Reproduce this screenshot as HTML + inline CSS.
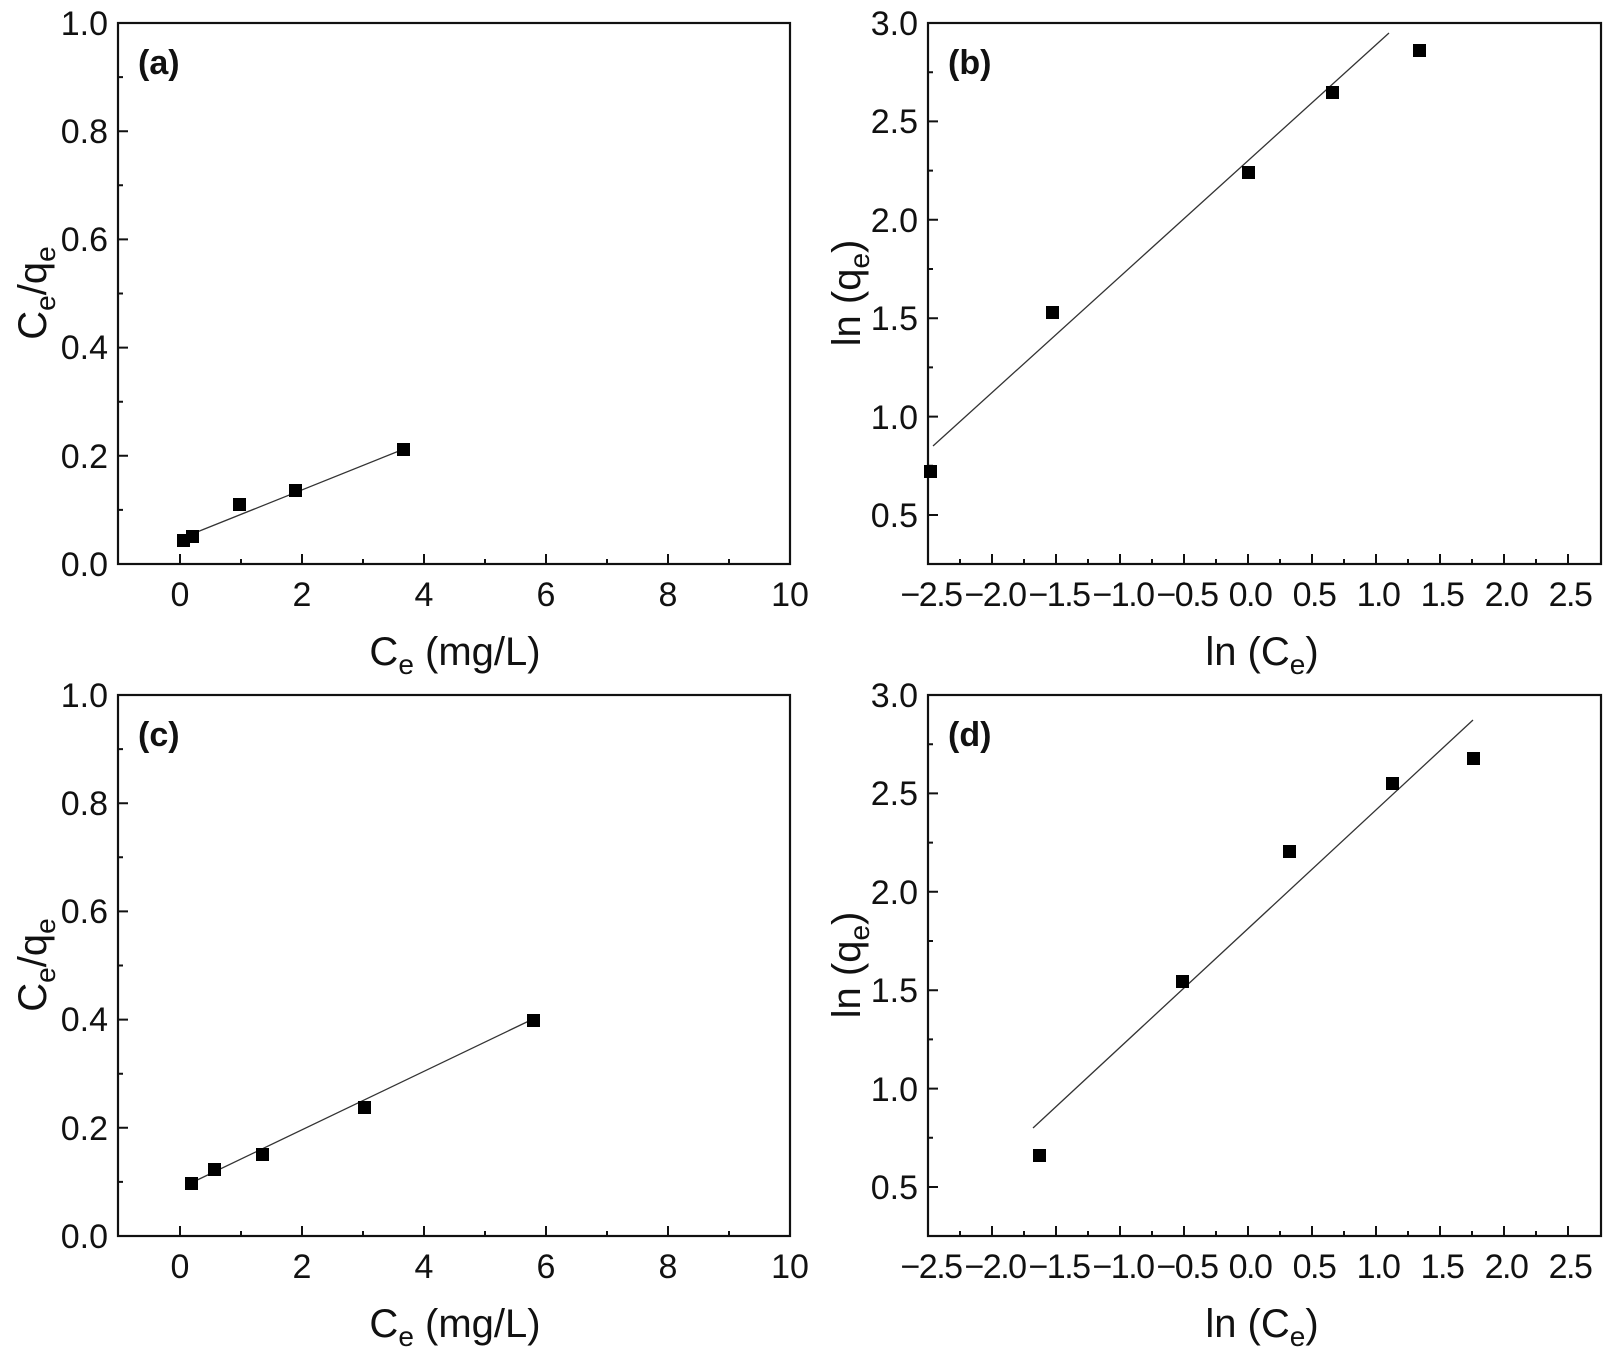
<!DOCTYPE html>
<html><head><meta charset="utf-8"><style>
html,body{margin:0;padding:0;background:#fff;}
svg{display:block;font-family:"Liberation Sans",Arial,sans-serif;}
.t{font-size:34px;fill:#111;}
.ti{font-size:40px;fill:#111;}
.p{font-size:34px;font-weight:bold;fill:#111;}
</style></head><body>
<svg width="1606" height="1349" viewBox="0 0 1606 1349" xmlns="http://www.w3.org/2000/svg">
<rect width="1606" height="1349" fill="#fff"/>
<g stroke="#111" stroke-width="2.2" fill="none">
<rect x="118" y="23" width="672" height="541"/>
<rect x="928" y="23" width="673" height="541"/>
<rect x="118" y="695" width="672" height="541"/>
<rect x="928" y="695" width="673" height="541"/>
</g>
<g stroke="#111" stroke-width="2">
<path d="M180 564v-10M302 564v-10M424 564v-10M546 564v-10M668 564v-10M241 564v-5M363 564v-5M485 564v-5M607 564v-5M729 564v-5"/>
<path d="M118 455.8h10M118 347.6h10M118 239.4h10M118 131.2h10M118 509.9h5M118 401.7h5M118 293.5h5M118 185.3h5M118 77.1h5"/>
<path d="M180 1236v-10M302 1236v-10M424 1236v-10M546 1236v-10M668 1236v-10M241 1236v-5M363 1236v-5M485 1236v-5M607 1236v-5M729 1236v-5"/>
<path d="M118 1127.8h10M118 1019.6h10M118 911.4h10M118 803.2h10M118 1181.9h5M118 1073.7h5M118 965.5h5M118 857.3h5M118 749.1h5"/>
<path d="M992 564v-10M1056 564v-10M1120 564v-10M1184 564v-10M1248 564v-10M1312 564v-10M1376 564v-10M1440 564v-10M1504 564v-10M1568 564v-10M960 564v-5M1024 564v-5M1088 564v-5M1152 564v-5M1216 564v-5M1280 564v-5M1344 564v-5M1408 564v-5M1472 564v-5M1536 564v-5"/>
<path d="M928 121.4h10M928 219.8h10M928 318.2h10M928 416.6h10M928 515h10M928 72.2h5M928 170.6h5M928 269h5M928 367.4h5M928 465.8h5"/>
<path d="M992 1236v-10M1056 1236v-10M1120 1236v-10M1184 1236v-10M1248 1236v-10M1312 1236v-10M1376 1236v-10M1440 1236v-10M1504 1236v-10M1568 1236v-10M960 1236v-5M1024 1236v-5M1088 1236v-5M1152 1236v-5M1216 1236v-5M1280 1236v-5M1344 1236v-5M1408 1236v-5M1472 1236v-5M1536 1236v-5"/>
<path d="M928 793.4h10M928 891.8h10M928 990.2h10M928 1088.6h10M928 1187h10M928 744.2h5M928 842.6h5M928 941h5M928 1039.4h5M928 1137.8h5"/>
</g>
<g stroke="#333" stroke-width="1.3">
<line x1="197" y1="532" x2="404" y2="449"/>
<line x1="191" y1="1183" x2="531" y2="1020"/>
<line x1="933" y1="446" x2="1389" y2="33"/>
<line x1="1033" y1="1128" x2="1473" y2="720"/>
</g>
<g fill="#000">
<rect x="177" y="534" width="13" height="13"/><rect x="186" y="530" width="13" height="13"/><rect x="233" y="498" width="13" height="13"/><rect x="289" y="484" width="13" height="13"/><rect x="397" y="443" width="13" height="13"/>
<rect x="185" y="1177" width="13" height="13"/><rect x="208" y="1163" width="13" height="13"/><rect x="256" y="1148" width="13" height="13"/><rect x="358" y="1101" width="13" height="13"/><rect x="527" y="1014" width="13" height="13"/>
<rect x="924" y="465" width="13" height="13"/><rect x="1046" y="306" width="13" height="13"/><rect x="1242" y="166" width="13" height="13"/><rect x="1326" y="86" width="13" height="13"/><rect x="1413" y="44" width="13" height="13"/>
<rect x="1033" y="1149" width="13" height="13"/><rect x="1176" y="975" width="13" height="13"/><rect x="1283" y="845" width="13" height="13"/><rect x="1386" y="777" width="13" height="13"/><rect x="1467" y="752" width="13" height="13"/>
</g>
<g class="t" text-anchor="middle">
<text x="180" y="606">0</text><text x="302" y="606">2</text><text x="424" y="606">4</text><text x="546" y="606">6</text><text x="668" y="606">8</text><text x="790" y="606">10</text>
<text x="180" y="1278">0</text><text x="302" y="1278">2</text><text x="424" y="1278">4</text><text x="546" y="1278">6</text><text x="668" y="1278">8</text><text x="790" y="1278">10</text>
</g>
<g class="t" text-anchor="middle" letter-spacing="-1.5">
<text x="931" y="606">−2.5</text><text x="995" y="606">−2.0</text><text x="1059" y="606">−1.5</text><text x="1123" y="606">−1.0</text><text x="1187" y="606">−0.5</text><text x="1250" y="606">0.0</text><text x="1314" y="606">0.5</text><text x="1378" y="606">1.0</text><text x="1442" y="606">1.5</text><text x="1506" y="606">2.0</text><text x="1570" y="606">2.5</text>
<text x="931" y="1278">−2.5</text><text x="995" y="1278">−2.0</text><text x="1059" y="1278">−1.5</text><text x="1123" y="1278">−1.0</text><text x="1187" y="1278">−0.5</text><text x="1250" y="1278">0.0</text><text x="1314" y="1278">0.5</text><text x="1378" y="1278">1.0</text><text x="1442" y="1278">1.5</text><text x="1506" y="1278">2.0</text><text x="1570" y="1278">2.5</text>
</g>
<g class="t" text-anchor="end">
<text x="108" y="576">0.0</text><text x="108" y="468">0.2</text><text x="108" y="359">0.4</text><text x="108" y="251">0.6</text><text x="108" y="143">0.8</text><text x="108" y="35">1.0</text>
<text x="108" y="1248">0.0</text><text x="108" y="1140">0.2</text><text x="108" y="1031">0.4</text><text x="108" y="923">0.6</text><text x="108" y="815">0.8</text><text x="108" y="707">1.0</text>
<text x="918" y="527">0.5</text><text x="918" y="429">1.0</text><text x="918" y="330">1.5</text><text x="918" y="232">2.0</text><text x="918" y="133">2.5</text><text x="918" y="35">3.0</text>
<text x="918" y="1199">0.5</text><text x="918" y="1101">1.0</text><text x="918" y="1002">1.5</text><text x="918" y="904">2.0</text><text x="918" y="805">2.5</text><text x="918" y="707">3.0</text>
</g>
<g class="p"><text x="138" y="74">(a)</text><text x="948" y="74">(b)</text><text x="138" y="746">(c)</text><text x="948" y="746">(d)</text></g>
<g class="ti" text-anchor="middle">
<text x="455" y="665">C<tspan font-size="28" dy="9">e</tspan><tspan dy="-9"> (mg/L)</tspan></text>
<text x="455" y="1337">C<tspan font-size="28" dy="9">e</tspan><tspan dy="-9"> (mg/L)</tspan></text>
<text x="1262" y="665">ln (C<tspan font-size="28" dy="9">e</tspan><tspan dy="-9">)</tspan></text>
<text x="1262" y="1337">ln (C<tspan font-size="28" dy="9">e</tspan><tspan dy="-9">)</tspan></text>
<text transform="translate(46,293) rotate(-90)">C<tspan font-size="28" dy="9">e</tspan><tspan dy="-9">/q</tspan><tspan font-size="28" dy="9">e</tspan></text>
<text transform="translate(46,965) rotate(-90)">C<tspan font-size="28" dy="9">e</tspan><tspan dy="-9">/q</tspan><tspan font-size="28" dy="9">e</tspan></text>
<text transform="translate(860,293) rotate(-90)">ln (q<tspan font-size="28" dy="9">e</tspan><tspan dy="-9">)</tspan></text>
<text transform="translate(860,965) rotate(-90)">ln (q<tspan font-size="28" dy="9">e</tspan><tspan dy="-9">)</tspan></text>
</g>
</svg>
</body></html>
